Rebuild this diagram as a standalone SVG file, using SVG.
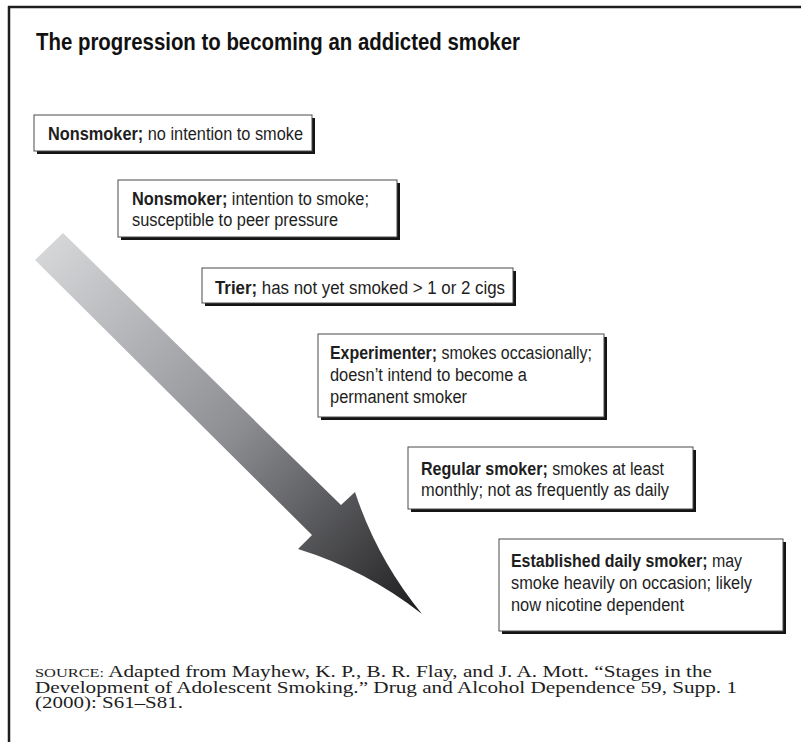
<svg xmlns="http://www.w3.org/2000/svg" width="801" height="742" viewBox="0 0 801 742">
<defs>
  <linearGradient id="arrowGrad" gradientUnits="userSpaceOnUse" x1="49" y1="246" x2="422" y2="614">
    <stop offset="0" stop-color="#d5d6d8"/>
    <stop offset="0.5" stop-color="#8d8e92"/>
    <stop offset="1" stop-color="#1c1c1e"/>
  </linearGradient>
</defs>
<style>
  .frame{stroke:#1e1e1e;stroke-width:2.5;fill:none}
  .shadow{fill:#141414}
  .box{fill:#ffffff;stroke:#4a4a4a;stroke-width:1}
  .t{font-family:'Liberation Sans Narrow','Liberation Sans',Arial,sans-serif;font-size:18px;fill:#1e1e1e}
  .b{font-weight:bold}
  .title{font-family:'Liberation Sans Narrow','Liberation Sans',Arial,sans-serif;font-size:23px;font-weight:bold;fill:#111111}
  .src{font-family:'Liberation Serif','Times New Roman',serif;font-size:17.5px;fill:#1e1e1e}
  .sc{font-size:13.5px}
</style>
<rect width="801" height="742" fill="#ffffff"/>
<g id="frame">
  <line class="frame" x1="8" y1="7" x2="801" y2="7"/>
  <line class="frame" x1="9" y1="6" x2="9" y2="742"/>
</g>
<text id="title" class="title" x="36" y="50" textLength="484" lengthAdjust="spacingAndGlyphs">The progression to becoming an addicted smoker</text>
<g id="arrow">
  <path d="M63,233 L341,505 L355,492 Q377,559 422,614 Q366,570 298,549 L312,535 L35,260 Z" fill="url(#arrowGrad)"/>
</g>
<g id="node-nonsmoker-no-intention">
  <rect class="shadow" x="37" y="118" width="278" height="36"/>
  <rect class="box" x="34" y="115" width="278" height="36"/>
  <text class="t" x="48" y="140" textLength="255" lengthAdjust="spacingAndGlyphs"><tspan class="b">Nonsmoker;</tspan> no intention to smoke</text>
</g>
<g id="node-nonsmoker-intention">
  <rect class="shadow" x="121" y="183" width="279" height="57"/>
  <rect class="box" x="118" y="180" width="279" height="57"/>
  <text class="t" x="132" y="205" textLength="237" lengthAdjust="spacingAndGlyphs"><tspan class="b">Nonsmoker;</tspan> intention to smoke;</text>
  <text class="t" x="132" y="226" textLength="206" lengthAdjust="spacingAndGlyphs">susceptible to peer pressure</text>
</g>
<g id="node-trier">
  <rect class="shadow" x="205" y="271" width="311" height="35"/>
  <rect class="box" x="202" y="268" width="311" height="35"/>
  <text class="t" x="215" y="294" textLength="290" lengthAdjust="spacingAndGlyphs"><tspan class="b">Trier;</tspan> has not yet smoked &gt; 1 or 2 cigs</text>
</g>
<g id="node-experimenter">
  <rect class="shadow" x="321" y="337" width="286" height="83"/>
  <rect class="box" x="318" y="334" width="286" height="83"/>
  <text class="t" x="330" y="359" textLength="262" lengthAdjust="spacingAndGlyphs"><tspan class="b">Experimenter;</tspan> smokes occasionally;</text>
  <text class="t" x="330" y="381" textLength="197" lengthAdjust="spacingAndGlyphs">doesn’t intend to become a</text>
  <text class="t" x="330" y="403" textLength="137" lengthAdjust="spacingAndGlyphs">permanent smoker</text>
</g>
<g id="node-regular-smoker">
  <rect class="shadow" x="411" y="450" width="285" height="62"/>
  <rect class="box" x="408" y="447" width="285" height="62"/>
  <text class="t" x="421" y="475" textLength="243" lengthAdjust="spacingAndGlyphs"><tspan class="b">Regular smoker;</tspan> smokes at least</text>
  <text class="t" x="421" y="496" textLength="248" lengthAdjust="spacingAndGlyphs">monthly; not as frequently as daily</text>
</g>
<g id="node-established-daily-smoker">
  <rect class="shadow" x="502" y="542" width="284" height="92"/>
  <rect class="box" x="499" y="539" width="284" height="92"/>
  <text class="t" x="511" y="567" textLength="231" lengthAdjust="spacingAndGlyphs"><tspan class="b">Established daily smoker;</tspan> may</text>
  <text class="t" x="511" y="589" textLength="241" lengthAdjust="spacingAndGlyphs">smoke heavily on occasion; likely</text>
  <text class="t" x="511" y="611" textLength="173" lengthAdjust="spacingAndGlyphs">now nicotine dependent</text>
</g>
<g id="source">
  <text class="src" x="35" y="677" textLength="677" lengthAdjust="spacingAndGlyphs"><tspan class="sc">SOURCE:</tspan> Adapted from Mayhew, K. P., B. R. Flay, and J. A. Mott. “Stages in the</text>
  <text class="src" x="35" y="692.5" textLength="702" lengthAdjust="spacingAndGlyphs">Development of Adolescent Smoking.” Drug and Alcohol Dependence 59, Supp. 1</text>
  <text class="src" x="35" y="708" textLength="148" lengthAdjust="spacingAndGlyphs">(2000): S61–S81.</text>
</g>
</svg>
